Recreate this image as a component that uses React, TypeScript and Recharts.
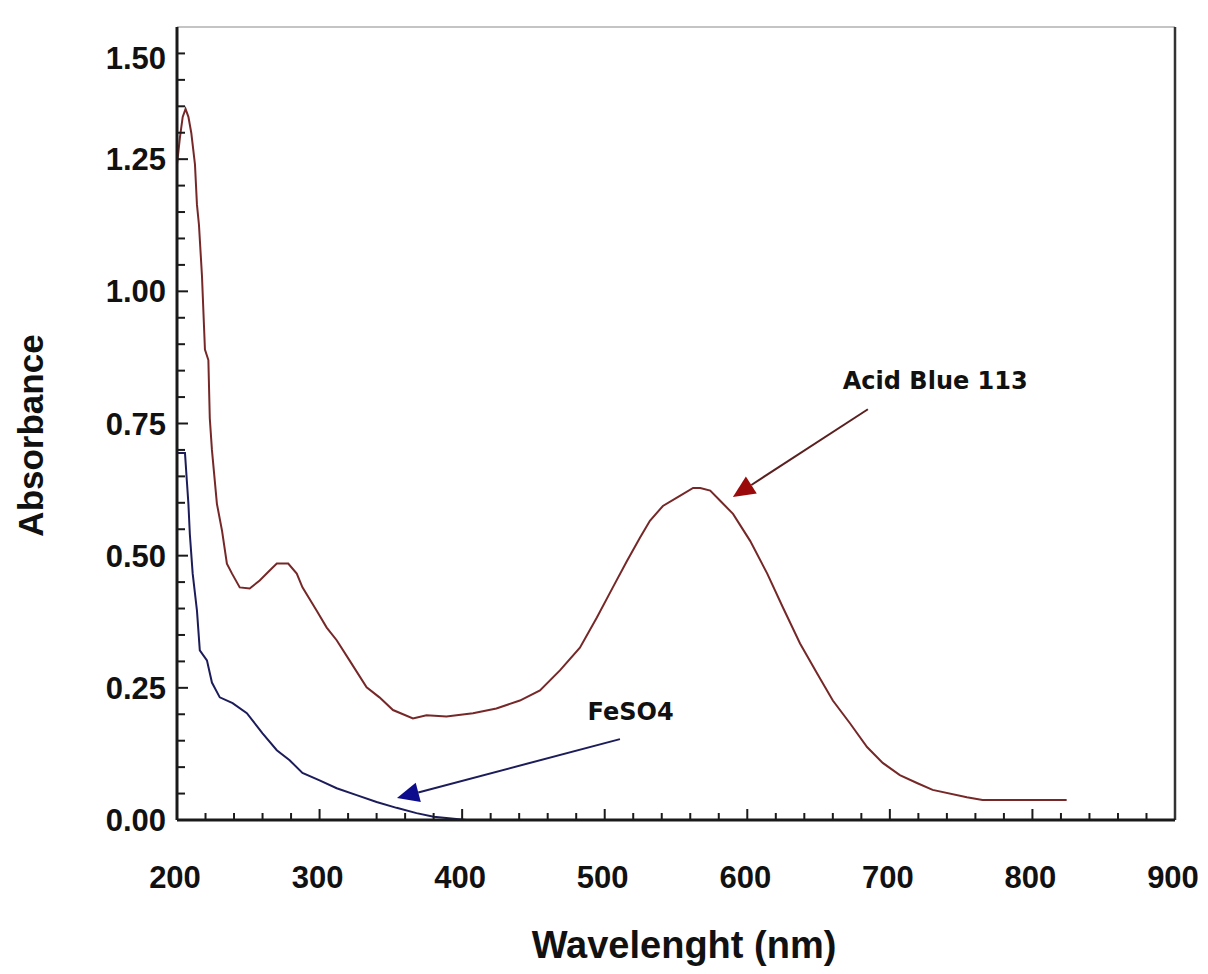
import React from "react";
import { LineChart, Line, XAxis, YAxis, ReferenceLine, ReferenceDot, Label } from "recharts";

// wavelength (nm) / absorbance
const acidBlueWl = [
  200, 202, 204, 206, 208, 210, 212.6, 214, 215.4, 217.5, 219.6, 222, 223, 224.5, 228, 231.6, 235, 238.6,
  244, 251, 258, 265, 270, 278, 284, 288, 298, 305, 312, 321, 333, 342, 351.5, 365.5, 375, 389, 407.6,
  424, 440.5, 454.6, 468.6, 482.6, 494.5, 505.7, 515.6, 524.7, 531.7, 540.8, 552.7, 562, 567, 574, 581,
  590, 602, 614, 625, 637, 649, 660, 672, 684, 695, 707, 719, 730, 754, 765, 824,
];
const acidBlueAbs = [
  1.24, 1.29, 1.33, 1.345, 1.33, 1.3, 1.24, 1.164, 1.126, 1.03, 0.89, 0.87, 0.76, 0.7, 0.598, 0.547, 0.485, 0.466,
  0.44, 0.438, 0.453, 0.472, 0.485, 0.485, 0.466, 0.44, 0.396, 0.364, 0.34, 0.302, 0.251, 0.232, 0.208, 0.192, 0.198, 0.196, 0.202,
  0.211, 0.226, 0.245, 0.283, 0.326, 0.383, 0.44, 0.49, 0.534, 0.566, 0.594, 0.613, 0.628, 0.628, 0.623, 0.604,
  0.579, 0.528, 0.466, 0.402, 0.334, 0.277, 0.226, 0.183, 0.138, 0.108, 0.085, 0.07, 0.057, 0.043, 0.038, 0.038,
];

const feso4Wl = [
  200, 205.6, 207, 208, 209, 211, 214, 216, 221, 224.5, 230, 239, 249, 260, 270, 279, 288, 300, 312, 326,
  340, 354, 368, 380, 403,
];
const feso4Abs = [
  0.694, 0.694, 0.638, 0.598, 0.541, 0.466, 0.396, 0.321, 0.302, 0.26, 0.232, 0.221, 0.202, 0.164, 0.132, 0.113,
  0.089, 0.075, 0.06, 0.047, 0.034, 0.023, 0.013, 0.006, 0,
];

const xTicks = Array.from({ length: 36 }, (_, i) => 200 + i * 20);
const yTicks = Array.from({ length: 31 }, (_, i) => Math.round(i * 5) / 100);

// annotation arrows: [start, tip] in data units
const acidArrow = [{ x: 684.6, y: 0.777 }, { x: 589.9, y: 0.611 }];
const feso4Arrow = [{ x: 510.7, y: 0.153 }, { x: 354.3, y: 0.0415 }];
const acidLabel = { x: 667, y: 0.815, text: "Acid Blue 113" };
const feso4Label = { x: 488, y: 0.189, text: "FeSO4" };

const acidData = acidBlueWl.map((w, i) => ({ w, a: acidBlueAbs[i] }));
const feso4Data = feso4Wl.map((w, i) => ({ w, a: feso4Abs[i] }));

const FONT = "'Liberation Sans', Arial, sans-serif";
const NOTE_FONT = "'DejaVu Sans', Verdana, sans-serif";
const AXIS = "#1a1a1a";

function XTick({ x, y, payload }: any) {
  const v = payload.value;
  const major = v % 100 === 0;
  return (
    <g>
      {v !== 200 && v !== 900 && (
        <line x1={x} x2={x} y1={y} y2={y - (major ? 11 : 7)} stroke={AXIS} strokeWidth={2} />
      )}
      {major && (
        <text x={x - 2} y={y + 68} textAnchor="middle" fontFamily={FONT} fontWeight="bold" fontSize={31} fill="#111">
          {v}
        </text>
      )}
    </g>
  );
}

function YTick({ x, y, payload }: any) {
  const v = payload.value;
  const major = Math.abs(v * 4 - Math.round(v * 4)) < 1e-6;
  return (
    <g>
      {v !== 0 && v !== 1.5 && (
        <line x1={x} x2={x + (major ? 11 : 8)} y1={y} y2={y} stroke={AXIS} strokeWidth={2} />
      )}
      {major && (
        <text
          x={x - 11}
          y={y + (v === 1.5 ? 31 : 0)}
          dy={11}
          textAnchor="end"
          fontFamily={FONT}
          fontWeight="bold"
          fontSize={31}
          fill="#111"
        >
          {v.toFixed(2)}
        </text>
      )}
    </g>
  );
}

function Arrow({ x1, y1, x2, y2, lineColor, headColor }: any) {
  const dx = x2 - x1;
  const dy = y2 - y1;
  const len = Math.hypot(dx, dy) || 1;
  const ux = dx / len;
  const uy = dy / len;
  const L = 22;
  const W = 10;
  const bx = x2 - ux * L;
  const by = y2 - uy * L;
  const pts = `${x2},${y2} ${bx - uy * W},${by + ux * W} ${bx + uy * W},${by - ux * W}`;
  return (
    <g>
      <line x1={x1} y1={y1} x2={bx} y2={by} stroke={lineColor} strokeWidth={2} />
      <polygon points={pts} fill={headColor} />
    </g>
  );
}

function Note({ cx, cy, text }: any) {
  return (
    <text x={cx} y={cy} fontFamily={NOTE_FONT} fontWeight="bold" fontSize={24} fill="#111">
      {text}
    </text>
  );
}

export default function App() {
  return (
    <div style={{ width: 1200, height: 958 }}>
      <LineChart width={1200} height={958} margin={{ top: 19, right: 33, bottom: 0, left: 0 }}>
        <XAxis
          dataKey="w"
          type="number"
          domain={[200, 900]}
          ticks={xTicks}
          interval={0}
          tick={<XTick />}
          tickLine={false}
          tickSize={0}
          tickMargin={0}
          height={146}
          axisLine={{ stroke: AXIS, strokeWidth: 3 }}
          allowDataOverflow
        >
          <Label
            content={({ viewBox }: any) => (
              <text
                x={viewBox.x + viewBox.width / 2 + 8}
                y={viewBox.y + 138}
                textAnchor="middle"
                fontFamily={FONT}
                fontWeight="bold"
                fontSize={38}
                fill="#111"
              >
                Wavelenght (nm)
              </text>
            )}
          />
        </XAxis>
        <YAxis
          type="number"
          domain={[0, 1.5]}
          ticks={yTicks}
          interval={0}
          tick={<YTick />}
          tickLine={false}
          tickSize={0}
          tickMargin={0}
          width={169}
          axisLine={{ stroke: AXIS, strokeWidth: 3 }}
          allowDataOverflow
        >
          <Label
            content={({ viewBox }: any) => {
              const cx = viewBox.x + 22;
              const cy = viewBox.y + viewBox.height / 2 + 12;
              return (
                <text
                  x={cx}
                  y={cy}
                  transform={`rotate(-90 ${cx} ${cy})`}
                  textAnchor="middle"
                  dominantBaseline="central"
                  fontFamily={FONT}
                  fontWeight="bold"
                  fontSize={35}
                  fill="#111"
                >
                  Absorbance
                </text>
              );
            }}
          />
        </YAxis>

        {/* plot frame: light top edge, dark right edge */}
        <ReferenceLine y={1.5} stroke="#b0b0b0" strokeWidth={1.5} ifOverflow="visible" />
        <ReferenceLine x={900} stroke="#333" strokeWidth={2.5} ifOverflow="visible" />

        <Line data={acidData} dataKey="a" type="linear" stroke="#762828" strokeWidth={2} dot={false} activeDot={false} isAnimationActive={false} />
        <Line data={feso4Data} dataKey="a" type="linear" stroke="#1c1c5a" strokeWidth={2} dot={false} activeDot={false} isAnimationActive={false} />

        <ReferenceLine
          segment={acidArrow}
          ifOverflow="visible"
          shape={(p: any) => <Arrow {...p} lineColor="#5a2020" headColor="#9a0a0a" />}
        />
        <ReferenceLine
          segment={feso4Arrow}
          ifOverflow="visible"
          shape={(p: any) => <Arrow {...p} lineColor="#1c1c5a" headColor="#0c0c8c" />}
        />
        <ReferenceDot x={acidLabel.x} y={acidLabel.y} r={0} ifOverflow="visible" shape={(p: any) => <Note {...p} text={acidLabel.text} />} />
        <ReferenceDot x={feso4Label.x} y={feso4Label.y} r={0} ifOverflow="visible" shape={(p: any) => <Note {...p} text={feso4Label.text} />} />
      </LineChart>
    </div>
  );
}
